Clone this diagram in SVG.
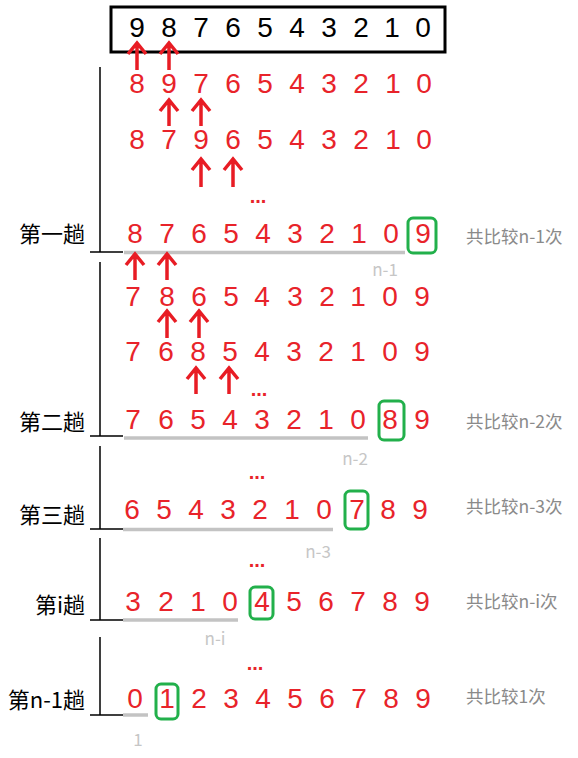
<svg xmlns="http://www.w3.org/2000/svg" width="578" height="758" viewBox="0 0 578 758">
<style>
.dg{font-family:"Liberation Sans","Noto Sans",sans-serif;font-size:28px;text-anchor:middle;fill:#e8232a}
.blk{fill:#000}
.lbl{font-family:"Noto Sans CJK SC","Noto Sans",sans-serif;font-size:22px;text-anchor:end;fill:#000}
.cnt{font-family:"Noto Sans CJK SC","Noto Sans",sans-serif;font-size:17.5px;fill:#8a8a8a}
.sm{font-family:"Noto Sans CJK SC","Noto Sans",sans-serif;font-size:17px;text-anchor:middle;fill:#c6c6c6}
.dots{font-family:"Liberation Sans",sans-serif;font-size:20px;font-weight:bold;text-anchor:middle;fill:#e8232a}
.br{stroke:#000;stroke-width:1.5;fill:none}
.ul{stroke:#c3c3c3;stroke-width:3.5}
.gb{fill:none;stroke:#22b04b;stroke-width:3}
.ar{stroke:#e81c24;stroke-width:3.5;fill:none}
</style>
<g id="top-array">
<rect x="111" y="7" width="334" height="45" fill="#fff" stroke="#000" stroke-width="3"/>
<text class="dg blk" x="137 169 201 233 265 297 329 361 392 423" y="37">9876543210</text>
</g>
<g id="pass1">
<text class="lbl" x="85" y="242">第一趟</text>
<text class="dg" x="137 169 201 233 265 297 329 361 393 424" y="93">8976543210</text>
<text class="dg" x="137 169 201 233 265 297 329 361 393 424" y="149">8796543210</text>
<text class="dots" x="258" y="203">...</text>
<text class="dg" x="135 167 199 231 263 295 327 359 391 423" y="243">8765432109</text>
<rect class="gb" x="408" y="218" width="28" height="35" rx="5"/>
<text class="sm" x="385" y="276">n-1</text>
<text class="cnt" x="466" y="243">共比较n-1次</text>
</g>
<g id="pass2">
<text class="lbl" x="85" y="430">第二趟</text>
<text class="dg" x="133 167 199 231 262 295 327 358 390 422" y="306">7865432109</text>
<text class="dg" x="133 166 198 230 262 294 326 358 390 422" y="361">7685432109</text>
<text class="dots" x="259" y="396">...</text>
<text class="dg" x="133 166 198 230 262 294 326 358 390 422" y="429">7654321089</text>
<rect class="gb" x="379" y="401" width="25" height="39" rx="5"/>
<text class="sm" x="355" y="465">n-2</text>
<text class="cnt" x="466" y="428">共比较n-2次</text>
</g>
<g id="pass3">
<text class="lbl" x="85" y="523">第三趟</text>
<text class="dots" x="257" y="479">...</text>
<text class="dg" x="132 164 196 228 260 292 324 357 388 420" y="519">6543210789</text>
<rect class="gb" x="345" y="491" width="23" height="38" rx="5"/>
<text class="sm" x="318" y="558">n-3</text>
<text class="cnt" x="466" y="513">共比较n-3次</text>
</g>
<g id="pass-i">
<text class="lbl" x="85" y="613">第i趟</text>
<text class="dots" x="257" y="567">...</text>
<text class="dg" x="133 166 198 230 262 294 326 358 390 422" y="611">3210456789</text>
<rect class="gb" x="250" y="587" width="23" height="32" rx="5"/>
<text class="sm" x="215" y="645">n-i</text>
<text class="cnt" x="466" y="608">共比较n-i次</text>
</g>
<g id="pass-n-1">
<text class="lbl" x="85" y="708">第n-1趟</text>
<text class="dots" x="255" y="670">...</text>
<text class="dg" x="135 167 199 231 263 295 327 359 391 423" y="708">0123456789</text>
<rect class="gb" x="156" y="684" width="22" height="35" rx="5"/>
<text class="sm" x="138" y="746">1</text>
<text class="cnt" x="466" y="703">共比较1次</text>
</g>
<g id="connectors">
<path class="br" d="M100 67V252M90 252H123M100 262V436M90 436H123M100 446V529M90 529H123M100 538V620M90 620H123M100 637V715M90 715H123"/>
<path class="ul" d="M124 252.5H405M124 438H368M123 529.5H333M123 620H238M123 715H148"/>
<path class="ar" d="M137 70V43M128 54L137 43L146 54M169 70V43M160 54L169 43L178 54"/>
<path class="ar" d="M169 126V100M160 111L169 100L178 111M201 126V100M192 111L201 100L210 111"/>
<path class="ar" d="M201 187V159M192 170L201 159L210 170M233 187V159M224 170L233 159L242 170"/>
<path class="ar" d="M135 280V254M126 265L135 254L144 265M167 280V254M158 265L167 254L176 265"/>
<path class="ar" d="M167 338V311M158 322L167 311L176 322M199 338V311M190 322L199 311L208 322"/>
<path class="ar" d="M196 394V368M187 379L196 368L205 379M229 394V368M220 379L229 368L238 379"/>
</g>
</svg>
